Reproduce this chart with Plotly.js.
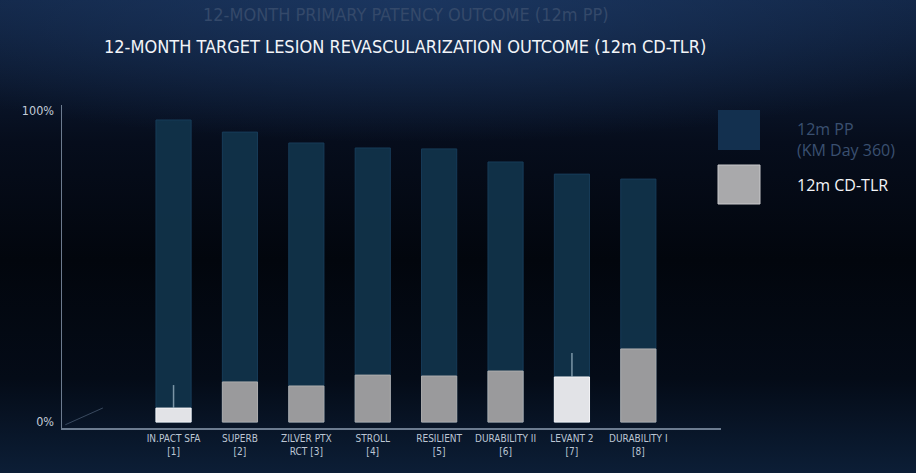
<!DOCTYPE html>
<html>
<head>
<meta charset="utf-8">
<script src="https://cdn.plot.ly/plotly-3.0.1.min.js"></script>
<style>
    html, body { margin: 0; padding: 0; width: 916px; height: 473px; overflow: hidden; }
    body {
        background:
            radial-gradient(ellipse 70% 30% at 45% 0%, rgba(30,60,105,0.75), rgba(30,60,105,0) 100%),
            linear-gradient(to bottom, #112443 0%, #060d1c 30%, #02060d 55%, #040b17 80%, #0c1e36 100%);
    }
    #chart { width: 916px; height: 473px; }
</style>
</head>
<body>
<div id="chart"></div>
<script>
// ###################### DATA ######################

const trials = ["IN.PACT SFA<br>[1]", "SUPERB<br>[2]", "ZILVER PTX<br>RCT [3]", "STROLL<br>[4]",
                "RESILIENT<br>[5]", "DURABILITY II<br>[6]", "LEVANT 2<br>[7]", "DURABILITY I<br>[8]"];
const patency = [97.1, 93.2, 89.7, 88.1, 87.8, 83.6, 79.7, 78.1];      // 12m PP (KM Day 360)
const cdtlr = [4.5, 12.9, 11.6, 15.1, 14.8, 16.4, 14.5, 23.5];         // 12m CD-TLR
const cdtlrUpper = [7.4, 0, 0, 0, 0, 0, 7.7, 0];                       // upper whisker
const highlighted = [true, false, false, false, false, false, true, false];

const yTickVals = [0, 100];
const yTickText = ["0%", "100%"];

// ###################### CHART ######################

const fontFamily = "'Liberation Sans Narrow', 'DejaVu Sans Condensed', 'Open Sans', sans-serif";

function drawChart(){

    const x = trials.map((t, i) => i);

    const chartData = [
        { type: "bar", x: x, y: patency, name: "12m PP", width: 0.53,
          marker: { color: "rgba(17,51,74,0.95)", line: { color: "rgba(24,62,92,0.9)", width: 1 } }, hoverinfo: "skip" },
        { type: "bar", x: x, y: cdtlr, name: "12m CD-TLR", width: 0.53,
          marker: { color: highlighted.map(h => h ? "#e2e3e7" : "#9a9a9c"),
                    line: { color: highlighted.map(h => h ? "#f4f4f6" : "#adadae"), width: 1 } },
          error_y: { type: "data", symmetric: false, array: cdtlrUpper, arrayminus: cdtlr.map(() => 0),
                     width: 0, thickness: 1.5, color: "rgba(150,175,190,0.8)" },
          hoverinfo: "skip" },
    ];

    const annotations = [
        { text: "12-MONTH PRIMARY PATENCY OUTCOME (12m PP)", xref: "paper", yref: "paper",
          x: (406 - 62) / 659, y: 1 + (105 - 14) / 323, xanchor: "center", yanchor: "middle",
          showarrow: false, font: { family: fontFamily, size: 18, color: "#34496a" } },
        { text: "12-MONTH TARGET LESION REVASCULARIZATION OUTCOME (12m CD-TLR)", xref: "paper", yref: "paper",
          x: (405 - 62) / 659, y: 1 + (105 - 47) / 323, xanchor: "center", yanchor: "middle",
          showarrow: false, font: { family: fontFamily, size: 18, color: "#f2f4f8" } },
        // legend text
        { text: "12m PP<br>(KM Day 360)", xref: "paper", yref: "paper",
          x: (795 - 62) / 659, y: (428 - 139) / 323, xanchor: "left", yanchor: "middle", align: "left",
          showarrow: false, font: { family: "'Open Sans', sans-serif", size: 16, color: "#3a5070" } },
        { text: "12m CD-TLR", xref: "paper", yref: "paper",
          x: (795 - 62) / 659, y: (428 - 185) / 323, xanchor: "left", yanchor: "middle", align: "left",
          showarrow: false, font: { family: "'Open Sans', sans-serif", size: 16, color: "#f2f4f8" } },
    ];

    const shapes = [
        // floor perspective line
        { type: "line", xref: "paper", yref: "paper", x0: 0.005, y0: 0.01, x1: 0.062, y1: 0.062,
          line: { color: "rgba(90,110,135,0.6)", width: 1 } },
        // legend swatches
        { type: "rect", xref: "paper", yref: "paper",
          x0: (718 - 62) / 659, x1: (760 - 62) / 659, y0: (428 - 150) / 323, y1: (428 - 110) / 323,
          fillcolor: "#13304f", line: { width: 0 } },
        { type: "rect", xref: "paper", yref: "paper",
          x0: (718 - 62) / 659, x1: (760 - 62) / 659, y0: (428 - 204) / 323, y1: (428 - 165) / 323,
          fillcolor: "#a9a9ab", line: { color: "#c8c8ca", width: 1 } },
    ];

    const chartLayout = {
        width: 916,
        height: 473,
        paper_bgcolor: "rgba(0,0,0,0)",
        plot_bgcolor: "rgba(0,0,0,0)",
        font: { family: fontFamily, size: 10, color: "#c3ccd8" },
        margin: { t: 105, b: 45, l: 62, r: 195 },
        barmode: "overlay",
        showlegend: false,
        xaxis: { range: [-1.68, 8.245], tickvals: x, ticktext: trials, showgrid: false, zeroline: false,
                 showline: true, linecolor: "rgba(120,135,155,0.9)", linewidth: 1.5, ticks: "",
                 tickfont: { family: fontFamily, size: 10, color: "#bcc6d4" }, fixedrange: true },
        yaxis: { range: [-1.9, 101.9], tickvals: yTickVals, ticktext: yTickText, showgrid: false, zeroline: false,
                 showline: true, linecolor: "rgba(120,135,155,0.9)", linewidth: 1.5, ticks: "",
                 ticklabelstandoff: 4,
                 tickfont: { family: fontFamily, size: 12.5, color: "#c3ccd8" }, fixedrange: true },
        annotations: annotations,
        shapes: shapes,
    };

    const chartConfig = { staticPlot: true, responsive: false };

    Plotly.newPlot("chart", chartData, chartLayout, chartConfig);
}

drawChart();
</script>
</body>
</html>
